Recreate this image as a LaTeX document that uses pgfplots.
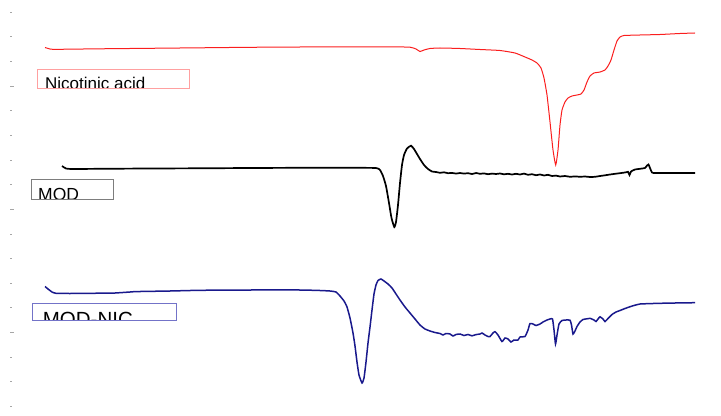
\documentclass[border=0pt]{standalone}
\usepackage{pgfplots}
\pgfplotsset{compat=1.18}
\usepackage{fontspec}
\setmainfont{Liberation Sans}

\definecolor{nicred}{RGB}{250,30,30}
\definecolor{nicbox}{RGB}{255,160,160}
\definecolor{modbox}{RGB}{125,125,125}
\definecolor{mixblue}{RGB}{25,25,140}
\definecolor{mixbox}{RGB}{115,115,200}

\begin{document}
\begin{tikzpicture}
\begin{axis}[
    scale only axis,
    width=711bp, height=416bp,
    xmin=10, xmax=721, ymin=0, ymax=416,
    y dir=reverse,
    clip=false,
    axis line style={draw=none},
    xtick=\empty,
    ytick={86.2,209.4,332.6},
    minor ytick={12.3,36.9,61.6,110.9,135.5,160.1,184.8,234.0,258.7,283.3,307.9,357.2,381.8,406.5},
    yticklabels={},
    ytick pos=left,
    tick align=inside,
    major tick length=4bp,
    minor tick length=2bp,
    every tick/.style={gray!70, line width=0.9pt},
]
\path (axis cs:0,0) rectangle (axis cs:721,416);

% Nicotinic acid
\addplot[nicred, line width=1bp, smooth, tension=0.3] coordinates {
(45,47.5) (50,49) (55,49.5) (60,49.3) (100,48.8) (150,48.3) (200,47.8) (250,47.3)
(300,47) (350,46.8) (390,46.8) (410,47.2) (416,49) (420,51.5) (424,50) (430,48.5)
(440,48) (460,48.5) (480,49.5) (500,50.5) (515,53) (525,57) (532,60) (537,63)
(541,68) (544,78) (547,95) (550,122) (553,150) (555.7,165) (558,150) (560,125)
(562,110) (565,102) (568,98) (572,96) (577,95) (581,94) (584,90) (587,82) (590,76)
(594,73) (600,72) (605,70) (608,66) (611,60) (614,50) (617,41) (620,37) (624,35.5)
(640,35) (660,34.5) (680,33.5) (695,33)
};

% MOD
\addplot[black, line width=1.7bp, smooth, tension=0.3] coordinates {
(62,166) (66,168.5) (72,169) (100,168.8) (150,168.5) (200,168.3) (250,168) (300,167.8)
(350,167.8) (376,168) (380,170) (383,176) (386,186) (389,203) (391.5,218) (394.3,227)
(396,222) (398,205) (400,183) (402,165) (404,155) (407,148.5) (411,145.7) (414,149)
(417,154) (420,159) (424,165) (428,169) (432,171.5) (436,172) (440,172.8) (444,172.3)
(448,173.2) (452,172.9) (456,173.6) (460,173) (464,173.6) (468,173.2) (472,174)
(476,173) (480,173.8) (484,173.4) (488,174.2) (492,173.6) (496,174) (500,173.5)
(504,174.3) (508,173.8) (512,174.5) (516,173.8) (520,174.5) (524,173.6) (528,174.8)
(532,174.2) (536,175.2) (540,174.5) (544,175.5) (548,174.8) (552,176) (556,175.6)
(560,176.5) (565,176) (570,176.8) (575,176.4) (580,176.8) (585,176.5) (590,177)
(595,176.8) (600,176) (605,175.3) (610,174.5) (615,173.8) (620,173.2) (626,172.3)
(628,171.8) (629.5,175) (631,171.5) (635,169.5) (640,168.8) (645,168) (647,165.5)
(648.5,164.5) (650,168) (652,172.5) (655,173) (670,173) (695,173)
};

% MOD-NIC
\addplot[mixblue, line width=1.5bp, smooth, tension=0.3] coordinates {
(45,286.5) (48,289) (52,292) (56,293.3) (70,293.5) (100,293.2) (115,293) (130,292)
(135,291.6) (170,291) (200,290.3) (250,290) (300,290) (320,290.5) (330,291) (336,292)
(340,296) (344,301) (347,307) (350,318) (353,333) (355,346) (357,362) (359,375)
(362,383) (364,378) (366,362) (368,343) (370,327) (372,310) (374,294) (376,285)
(378,280.5) (381,279) (384,281) (388,284) (392,288) (396,294) (400,300) (405,307)
(410,313) (415,319) (420,325) (425,329) (430,331) (435,332.5) (440,333.5) (443,335)
(446,333.5) (450,334) (453,336) (456,334.5) (460,334) (464,335.5) (468,334.5)
(472,335.8) (476,334.6) (480,334) (482,333) (485,335) (488,336.5) (490,336.5)
(493,333) (495,331.7) (498,335) (502,341.5) (505,338) (508,339) (511,342) (514,340)
(518,340) (520,337) (525,336.5) (528,330) (530,323.5) (533,324) (536,325.5) (540,324)
(543,322) (547,320) (550,319) (552.5,319) (554,330) (555.5,344) (557,335) (559,324)
(562,320.5) (566,320) (570,320.2) (571.5,325) (573,334) (575,331) (577,326.5)
(580,322) (583,319.5) (587,318.8) (590,318.3) (594,320) (596,321.5) (598,319)
(600,316.8) (603,319) (605,321.5) (608,318.5) (612,314.5) (616,312) (620,310.5)
(625,308.5) (630,306.7) (635,305.2) (640,304) (650,303.6) (660,303.3) (675,303)
(695,302.7)
};

% label boxes, text cut at the lower edge
\begin{scope}
\clip (axis cs:37.5,69.3) rectangle (axis cs:189.3,88.3);
\node[anchor=base west, inner sep=0pt, font=\fontsize{17bp}{19bp}\selectfont] at (axis cs:45,90) {Nicotinic acid};
\end{scope}
\draw[nicbox, line width=1bp] (axis cs:37.5,69.3) rectangle (axis cs:189.3,88.3);

\begin{scope}
\clip (axis cs:31.5,179) rectangle (axis cs:113,199.3);
\node[anchor=base west, inner sep=0pt, font=\fontsize{17.5bp}{19bp}\selectfont] at (axis cs:38,200.5) {MOD};
\end{scope}
\draw[modbox, line width=1bp] (axis cs:31.5,179) rectangle (axis cs:113,199.3);

\begin{scope}
\clip (axis cs:32.3,303.3) rectangle (axis cs:176.7,320);
\node[anchor=base west, inner sep=0pt, font=\fontsize{20.5bp}{22bp}\selectfont] at (axis cs:42.7,326.5) {MOD-NIC};
\end{scope}
\draw[mixbox, line width=1bp] (axis cs:32.3,303.3) rectangle (axis cs:176.7,320);
\end{axis}
\end{tikzpicture}
\end{document}
